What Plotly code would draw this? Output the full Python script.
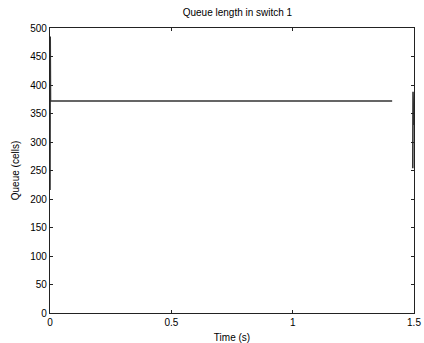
import plotly.graph_objects as go

# Queue occupancy samples for switch 1 (time in seconds, queue in cells)
time_s = [0.0, 0.0004, 0.0008, 0.0012, 0.0016, 0.002, 0.01, 0.3, 0.6, 0.9, 1.2, 1.38, 1.385, 1.39, 1.40, 1.41,
          None, 1.495, 1.496, 1.497, 1.498]
queue_cells = [216, 372, 485, 462, 372, 372, 372, 372, 372, 372, 372, 372, 373, 372, 373, 372,
               None, 254, 388, 300, 330]

x_ticks = [0, 0.5, 1, 1.5]
x_tick_text = ["0", "0.5", "1", "1.5"]
y_ticks = [0, 50, 100, 150, 200, 250, 300, 350, 400, 450, 500]

FONT = "Liberation Sans, Arial"

fig = go.Figure()
fig.add_trace(go.Scatter(
    x=time_s, y=queue_cells, mode="lines",
    line=dict(color="#333333", width=1.6),
    connectgaps=False, showlegend=False, cliponaxis=False,
))

axis_common = dict(
    showgrid=False, zeroline=False, showline=True, mirror="ticks",
    linecolor="#222", linewidth=1.2, ticks="inside", ticklen=3,
    tickcolor="#222", automargin=False,
    tickfont=dict(family=FONT, size=10, color="#000"),
)

fig.update_layout(
    width=424, height=343,
    margin=dict(l=50, r=10, t=28, b=30),
    paper_bgcolor="white", plot_bgcolor="white",
    title=dict(text="Queue length in switch 1", x=0.56, xanchor="center", y=0.963, yanchor="middle",
               font=dict(family=FONT, size=10, color="#000")),
    xaxis=dict(range=[0, 1.5], tickvals=x_ticks, ticktext=x_tick_text,
               title=dict(text="Time (s)", standoff=6,
                          font=dict(family=FONT, size=10, color="#000")),
               **axis_common),
    yaxis=dict(range=[0, 500], tickvals=y_ticks,
               title=dict(text="Queue (cells)", standoff=8,
                          font=dict(family=FONT, size=10, color="#000")),
               **axis_common),
)

fig.write_html("out.html")
